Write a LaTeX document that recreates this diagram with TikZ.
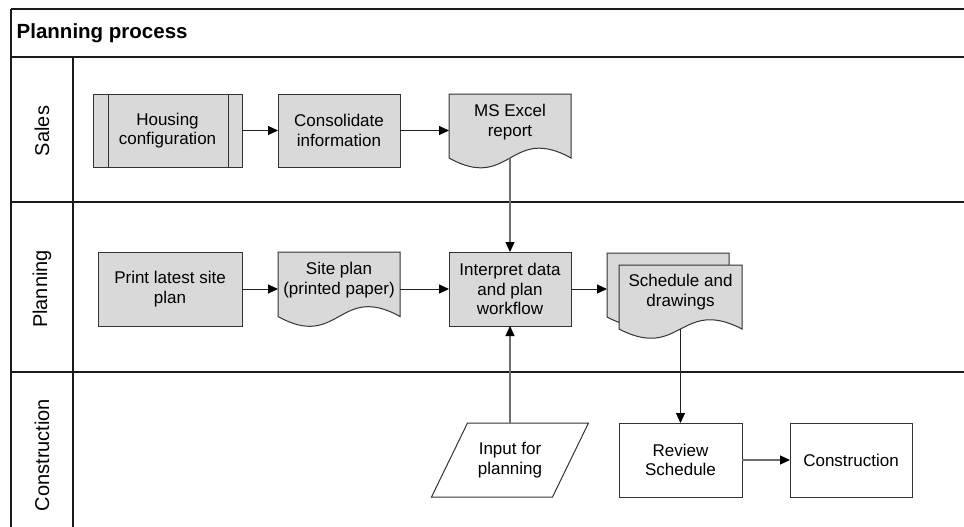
\documentclass[tikz,border=0pt]{standalone}
\usepackage{fontspec}
\setmainfont{Liberation Sans}
\usetikzlibrary{arrows.meta,calc}
\definecolor{boxfill}{HTML}{D9D9D9}
\definecolor{boxline}{HTML}{333333}
\definecolor{graylink}{HTML}{707070}
\definecolor{darklink}{HTML}{222222}
\definecolor{frameline}{HTML}{1A1A1A}
\newcommand\diagbody{\fontsize{17}{19.5}\selectfont}
\newcommand\diagtitle{\fontsize{20.5}{24}\selectfont\bfseries}
\newcommand\diaglane{\fontsize{20}{24}\selectfont}
\begin{document}
\begin{tikzpicture}[x=1pt,y=-1pt,
  frame/.style={draw=frameline, line width=1.8pt},
  proc/.style={draw=boxline, line width=1pt, fill=boxfill, minimum height=74, align=center, inner sep=1pt, outer sep=0pt, font=\diagbody},
  wproc/.style={proc, fill=white},
  docarea/.style={rectangle, inner sep=0pt, outer sep=0pt},
  docshape/.style={draw=boxline, line width=1pt, fill=boxfill},
  txt/.style={align=center, inner sep=0pt, font=\diagbody},
  lanelabel/.style={rotate=90, inner sep=0pt, font=\diaglane},
  link/.style={draw=darklink, line width=1pt, -{Triangle[length=10pt,width=9pt,color=black]}},
  glink/.style={link, draw=graylink, line width=1.2pt}
]
\useasboundingbox (0,0) rectangle (964,527);
\clip (0,0) rectangle (964,527);

% pool and lanes
\draw[frame] (11,9) -- (990,9);
\draw[frame] (11,9) -- (11,560);
\draw[frame] (11,57) -- (990,57);
\draw[frame] (73,57) -- (73,560);
\draw[frame] (11,202) -- (990,202);
\draw[frame] (11,372) -- (990,372);

\node[font=\diagtitle, anchor=west, inner sep=0pt] (ttl) at (16.5,33) {Planning process};
\node[lanelabel] (lsales) at (42,131) {Sales};
\node[lanelabel] (lplan) at (42,289) {Planning};
\node[lanelabel] (lcons) at (42,455) {Construction};

% Sales lane
\node[proc, minimum width=149, minimum height=73] (hc) at (167.5,130.5) {Housing\\configuration};
\draw[boxline, line width=1pt] ([xshift=15pt]hc.north west) -- ([xshift=15pt]hc.south west);
\draw[boxline, line width=1pt] ([xshift=-14pt]hc.north east) -- ([xshift=-14pt]hc.south east);
\node[proc, minimum width=122, minimum height=73] (cons) at (339,130.5) {Consolidate\\information};

\node[docarea, minimum width=122, minimum height=64] (msx) at (510,126) {};
\draw[docshape] (msx.south west) -- (msx.north west) -- (msx.north east) -- (msx.south east)
  .. controls ($(msx.south)+(0,-34)$) and ($(msx.south)+(0,34)$) .. (msx.south west) -- cycle;
\node[txt] (msxt) at (510,122) {MS Excel\\report};

% Planning lane
\node[proc, minimum width=144] (prt) at (170,289) {Print latest site\\plan};

\node[docarea, minimum width=122, minimum height=64.5] (site) at (339,284.25) {};
\draw[docshape] (site.south west) -- (site.north west) -- (site.north east) -- (site.south east)
  .. controls ($(site.south)+(0,-34)$) and ($(site.south)+(0,34)$) .. (site.south west) -- cycle;
\node[txt] (sitet) at (339,280) {Site plan\\(printed paper)};

\node[proc, minimum width=122] (intp) at (510,289) {Interpret data\\and plan\\workflow};

\node[docarea, minimum width=122, minimum height=64] (sb) at (668,285) {};
\draw[docshape] (sb.south west) -- (sb.north west) -- (sb.north east) -- (sb.south east)
  .. controls ($(sb.south)+(0,-32)$) and ($(sb.south)+(0,32)$) .. (sb.south west) -- cycle;
\node[docarea, minimum width=123, minimum height=64] (sf) at (680.5,297) {};
\draw[docshape] (sf.south west) -- (sf.north west) -- (sf.north east) -- (sf.south east)
  .. controls ($(sf.south)+(0,-32)$) and ($(sf.south)+(0,32)$) .. (sf.south west) -- cycle;
\node[txt] (sft) at (680.5,292) {Schedule and\\drawings};

% Construction lane
\node[docarea, minimum width=121, minimum height=74, align=center, font=\diagbody] (inp) at (510,460) {Input for\\planning};
\draw[boxline, line width=1pt] ([xshift=-18pt]inp.south west) -- ([xshift=18pt]inp.north west)
  -- ([xshift=18pt]inp.north east) -- ([xshift=-18pt]inp.south east) -- cycle;

\node[wproc, minimum width=123] (rev) at (680.5,460) {Review\\Schedule};
\node[wproc, minimum width=122] (con) at (851,460) {Construction};

% connectors
\draw[link] (hc.east) -- (cons.west);
\draw[link] (cons.east) -- (cons.east -| msx.west);
\draw[glink] (msx.south) -- (intp.north);
\draw[link] (prt.east) -- (prt.east -| site.west);
\draw[link] (site.east |- intp.west) -- (intp.west);
\draw[link] (intp.east) -- (intp.east -| sb.west);
\draw[link] (sf.south) -- (rev.north);
\draw[glink] (inp.north) -- (intp.south);
\draw[glink] (rev.east) -- (con.west);
\end{tikzpicture}
\end{document}
